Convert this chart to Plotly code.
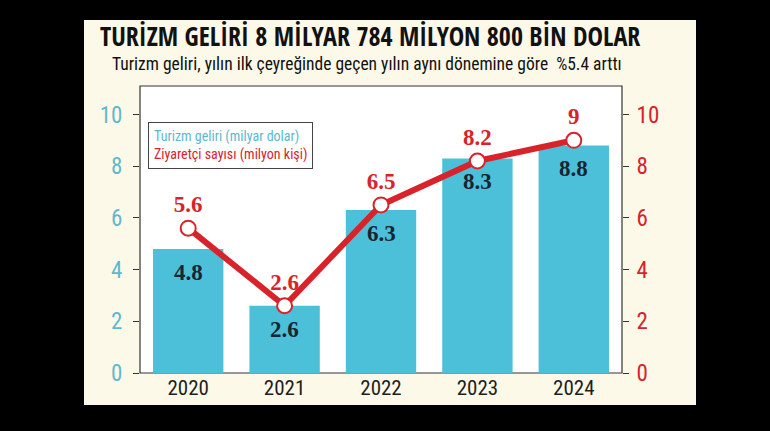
import plotly.graph_objects as go

years = ["2020", "2021", "2022", "2023", "2024"]
revenue = [4.8, 2.6, 6.3, 8.3, 8.8]      # milyar dolar
visitors = [5.6, 2.6, 6.5, 8.2, 9.0]     # milyon kişi
visitor_labels = ["5.6", "2.6", "6.5", "8.2", "9"]
tick_vals = [0, 2, 4, 6, 8, 10]

W, H = 770, 431
L, R, T, B = 140, 148, 86, 58
CYAN = "#4cc0d8"
CYAN_TXT = "#5db9cf"
RED = "#d8232a"
COND = "Roboto Condensed, sans-serif"
HEAD = "Open Sans Condensed, Roboto Condensed, sans-serif"
SERIF = "Liberation Serif, serif"

fig = go.Figure()
fig.add_trace(go.Bar(
    x=years, y=revenue, marker=dict(color=CYAN, line=dict(width=0)),
    hoverinfo="skip", yaxis="y", name="Turizm geliri (milyar dolar)",
))
fig.add_trace(go.Scatter(
    x=years, y=visitors, mode="lines+markers+text",
    line=dict(color=RED, width=6),
    marker=dict(size=15, color="white", line=dict(color=RED, width=2)),
    text=visitor_labels, textposition="top center",
    textfont=dict(family=SERIF, size=23, color=RED, weight="bold"),
    yaxis="y2", name="Ziyaretçi sayısı (milyon kişi)", cliponaxis=False,
))

def px_x(p):
    return (p - L) / (W - L - R)

def px_y(p):
    return (H - B - p) / (H - T - B)

shapes = [
    dict(type="rect", xref="paper", yref="paper", layer="below",
         x0=px_x(84), x1=px_x(696), y0=px_y(405), y1=px_y(20),
         fillcolor="#fdf9e8", line=dict(width=0)),
    dict(type="rect", xref="paper", yref="paper", layer="below",
         x0=0, x1=1, y0=0, y1=1, fillcolor="white",
         line=dict(color="#333333", width=1.2)),
]

annotations = [
    dict(text="<b>TURİZM GELİRİ 8 MİLYAR 784 MİLYON 800 BİN DOLAR</b>",
         xref="paper", yref="paper", x=px_x(370), y=px_y(36), showarrow=False,
         font=dict(family=HEAD, size=26, color="#111111"), xanchor="center", yanchor="middle"),
    dict(text="Turizm geliri, yılın ilk çeyreğinde geçen yılın aynı dönemine göre  %5.4 arttı",
         xref="paper", yref="paper", x=px_x(367), y=px_y(64), showarrow=False,
         font=dict(family=COND, size=17.5, color="#111111"), xanchor="center", yanchor="middle"),
    dict(text=f"<span style='color:{CYAN_TXT}'>Turizm geliri (milyar dolar)</span><br>"
              f"<span style='color:{RED}'>Ziyaretçi sayısı (milyon kişi)</span>",
         xref="paper", yref="paper", x=px_x(148), y=px_y(122), showarrow=False,
         xanchor="left", yanchor="top", align="left",
         font=dict(family=COND, size=14), bordercolor="#444444", borderwidth=1,
         borderpad=5, bgcolor="white"),
]
for i, v in enumerate(revenue):
    annotations.append(dict(text=f"{v}", x=i, y=v, xref="x", yref="y", showarrow=False,
                            yanchor="top", yshift=-9,
                            font=dict(family=SERIF, size=23, color="#172632", weight="bold")))

fig.update_layout(
    width=W, height=H, margin=dict(l=L, r=R, t=T, b=B),
    paper_bgcolor="black", plot_bgcolor="white",
    showlegend=False, bargap=0.27,
    shapes=shapes, annotations=annotations,
    xaxis=dict(type="category", range=[-0.5, len(years) - 0.5], showgrid=False,
               showline=False, zeroline=False,
               tickfont=dict(family=COND, size=21, color="#1e1e1e"), ticks=""),
    yaxis=dict(range=[0, 11.1], tickvals=tick_vals, showgrid=False, zeroline=False,
               showline=False, ticks="outside", ticklen=6, tickcolor="#333333",
               tickfont=dict(family=COND, size=23, color=CYAN_TXT), ticklabelstandoff=6),
    yaxis2=dict(range=[0, 11.1], tickvals=tick_vals, overlaying="y", side="right",
                showgrid=False, zeroline=False, showline=False, ticks="outside",
                ticklen=6, tickcolor="#333333",
                tickfont=dict(family=COND, size=23, color=RED), ticklabelstandoff=3),
)

fig.write_html("out.html", config={"displayModeBar": False},
               post_script="document.body.style.margin='0';")
